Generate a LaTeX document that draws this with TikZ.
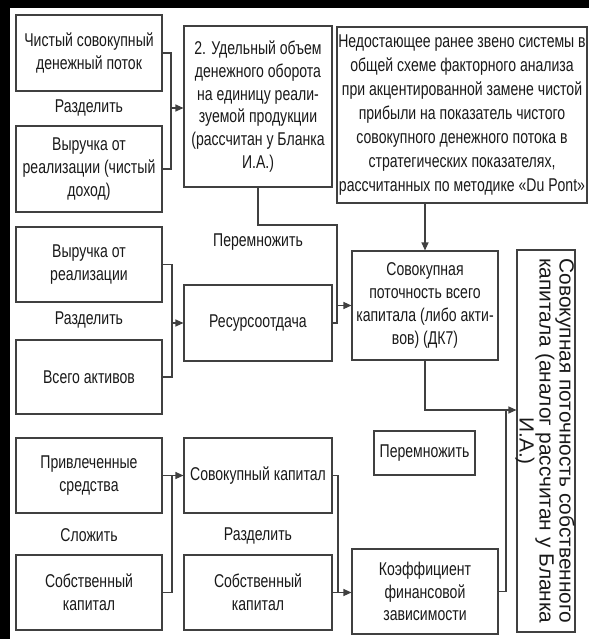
\documentclass[tikz,border=0pt]{standalone}
\usepackage{fontspec}
\setmainfont{Liberation Sans}[FakeStretch=0.76]
\newfontfamily\vfont{Liberation Sans}[FakeStretch=1.02]
\usetikzlibrary{arrows.meta,calc}
\begin{document}
\begin{tikzpicture}[x=1pt,y=-1pt,
  box/.style={draw=black!75, line width=1.1pt, inner sep=0pt, align=center,
    font=\fontsize{18.5}{22.8}\selectfont, text=black!90},
  lbl/.style={inner sep=0pt, align=center, font=\fontsize{18.5}{22.8}\selectfont, text=black!90},
  ln/.style={draw=black!75, line width=1.1pt},
  arr/.style={ln, -{Triangle[length=8pt,width=7pt]}}]
\useasboundingbox (0,0) rectangle (589,639);
\fill[black] (0,0) rectangle (589,8);
\fill[black] (0,0) rectangle (10,639);
% left column
\node[box, minimum width=146, minimum height=76] (A) at (89,53) {Чистый совокупный\\денежный поток};
\node[lbl] (l1) at (89,108) {Разделить};
\node[box, minimum width=146, minimum height=86] (B) at (89,169) {Выручка от\\реализации (чистый\\доход)};
\node[box, minimum width=146, minimum height=75] (G) at (89,264.5) {Выручка от\\реализации};
\node[lbl] (l2) at (89,320) {Разделить};
\node[box, minimum width=146, minimum height=74] (H) at (89,377) {Всего активов};
\node[box, minimum width=146, minimum height=75] (P) at (89,475.5) {Привлеченные\\средства};
\node[lbl] (l3) at (89,535) {Сложить};
\node[box, minimum width=146, minimum height=75] (S1) at (89,592.5) {Собственный\\капитал};
% middle column
\node[box, minimum width=148, minimum height=161] (C) at (258,106.5) {2. Удельный объем\\денежного оборота\\на единицу реали-\\зуемой продукции\\(рассчитан у Бланка\\И.А.)};
\node[lbl] (l4) at (258,242) {Перемножить};
\node[box, minimum width=148, minimum height=76] (R) at (258,323) {Ресурсоотдача};
\node[box, minimum width=148, minimum height=75] (K) at (258,475.5) {Совокупный капитал};
\node[lbl] (l5) at (258,536) {Разделить};
\node[box, minimum width=148, minimum height=75] (S2) at (258,592.5) {Собственный\\капитал};
% right part
\node[box, minimum width=250, minimum height=176, font=\fontsize{18.5}{24}\selectfont] (D) at (462,115) {Недостающее ранее звено системы в\\общей схеме факторного анализа\\при акцентированной замене чистой\\прибыли на показатель чистого\\совокупного денежного потока в\\стратегических показателях,\\рассчитанных по методике «Du Pont»};
\node[box, minimum width=146, minimum height=109] (E) at (425,305.5) {Совокупная\\поточность всего\\капитала (либо акти-\\вов) (ДК7)};
\node[box, minimum width=101, minimum height=44] (M) at (424.5,453) {Перемножить};
\node[box, minimum width=146, minimum height=85] (Q) at (425,591.5) {Коэффициент\\финансовой\\зависимости};
\node[box, minimum width=58, minimum height=382] (F) at (546,441) {};
\node[lbl, rotate=-90, font=\vfont\fontsize{20.5}{18.5}\selectfont] (Ft) at ($(F.center)+(-1,0)$) {Совокупная поточность собственного\\капитала (аналог рассчитан у Бланка\\И.А.)};
% connectors
\coordinate (j1) at (171,108);
\draw[ln] (A.east) -| (j1) |- (B.east);
\draw[arr] (j1) -- (C.west |- j1);
\coordinate (c2) at (337,225);
\draw[ln] (C.south) |- (c2) -- (c2 |- R.east) -- (R.east);
\draw[arr] (c2 |- E.west) -- (E.west);
\draw[arr] (E.north |- D.south) -- (E.north);
\coordinate (j4) at (172,323);
\draw[ln] (G.east) -| (j4) |- (H.east);
\draw[arr] (j4) -- (R.west);
\coordinate (j5) at (506,410);
\draw[arr] (E.south) |- (F.west |- j5);
\draw[ln] (j5) |- (Q.east);
\coordinate (j6) at (172,475.5);
\draw[arr] (P.east) -- (K.west);
\draw[ln] (j6) |- (S1.east);
\coordinate (j7) at (338,592.5);
\draw[ln] (K.east) -| (j7);
\draw[arr] (S2.east) -- (Q.west |- S2.east);
\end{tikzpicture}
\end{document}
